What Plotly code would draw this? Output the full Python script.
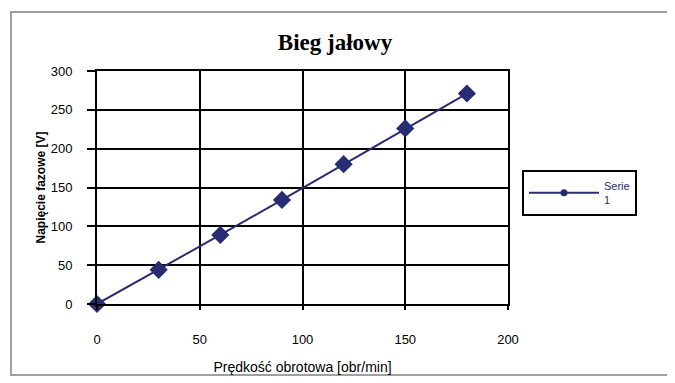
import plotly.graph_objects as go

speed = [0, 30, 60, 90, 120, 150, 180]
voltage = [0, 44, 89, 134, 180, 226, 271]
x_ticks = [0, 50, 100, 150, 200]
y_ticks = [0, 50, 100, 150, 200, 250, 300]
series_name = "Serie<br>1"

color = "#282C72"
OFF = 8  # page offset of the plot div

W, H = 675, 383
L, T = 97 - OFF, 71 - OFF
R = W - (508 - OFF)
B = H - (304 - OFF)
pw, ph = W - L - R, H - T - B

def px(x):
    return (x - OFF - L) / pw

def py(y):
    return 1 - (y - OFF - T) / ph

fig = go.Figure()
fig.add_trace(go.Scatter(
    x=speed, y=voltage, mode="lines+markers", name=series_name,
    line=dict(color=color, width=2),
    marker=dict(symbol="diamond", size=14, color=color),
    cliponaxis=False, showlegend=False,
))
fig.add_trace(go.Scatter(
    x=[None], y=[None], mode="lines+markers", name=series_name,
    line=dict(color=color, width=2),
    marker=dict(symbol="circle", size=7, color=color),
))

tickfont = dict(size=13, family="Liberation Sans Narrow, Liberation Sans")

fig.update_layout(
    width=W, height=H,
    margin=dict(l=L, r=R, t=T, b=B),
    paper_bgcolor="white", plot_bgcolor="white",
    title=dict(text="<b>Bieg jałowy</b>", x=(335 - OFF) / W, xanchor="center",
               y=1 - (42 - OFF) / H, yanchor="middle",
               font=dict(family="Liberation Serif", size=23, color="black")),
    font=dict(family="Liberation Sans", color="black"),
    showlegend=True,
    legend=dict(x=px(522), y=py(170), xanchor="left", yanchor="top",
                bordercolor="black", borderwidth=2, bgcolor="white",
                itemwidth=70, tracegroupgap=0,
                font=dict(size=11, color=color)),
    xaxis=dict(range=[0, 200], tickvals=x_ticks, showgrid=True,
               gridcolor="black", gridwidth=2, showline=True, linecolor="black",
               linewidth=2, mirror=True, ticks="outside", ticklen=4,
               tickwidth=2, tickcolor="black", zeroline=False,
               tickfont=tickfont, ticklabelstandoff=18,
               title=dict(text="Prędkość obrotowa [obr/min]", standoff=17,
                          font=dict(size=14))),
    yaxis=dict(range=[0, 300], tickvals=y_ticks, showgrid=True,
               gridcolor="black", gridwidth=2, showline=True, linecolor="black",
               linewidth=2, mirror=True, ticks="outside", ticklen=8,
               tickwidth=2, tickcolor="black", zeroline=False,
               tickfont=tickfont, ticklabelstandoff=12,
               title=dict(text="<b>Napięcie fazowe [V]</b>", standoff=2,
                          font=dict(size=12))),
    shapes=[dict(type="rect", xref="paper", yref="paper",
                 x0=px(11), x1=px(668), y0=py(12), y1=py(375),
                 line=dict(color="#A0A0A0", width=2), layer="below")],
)

fig.write_html("out.html")
